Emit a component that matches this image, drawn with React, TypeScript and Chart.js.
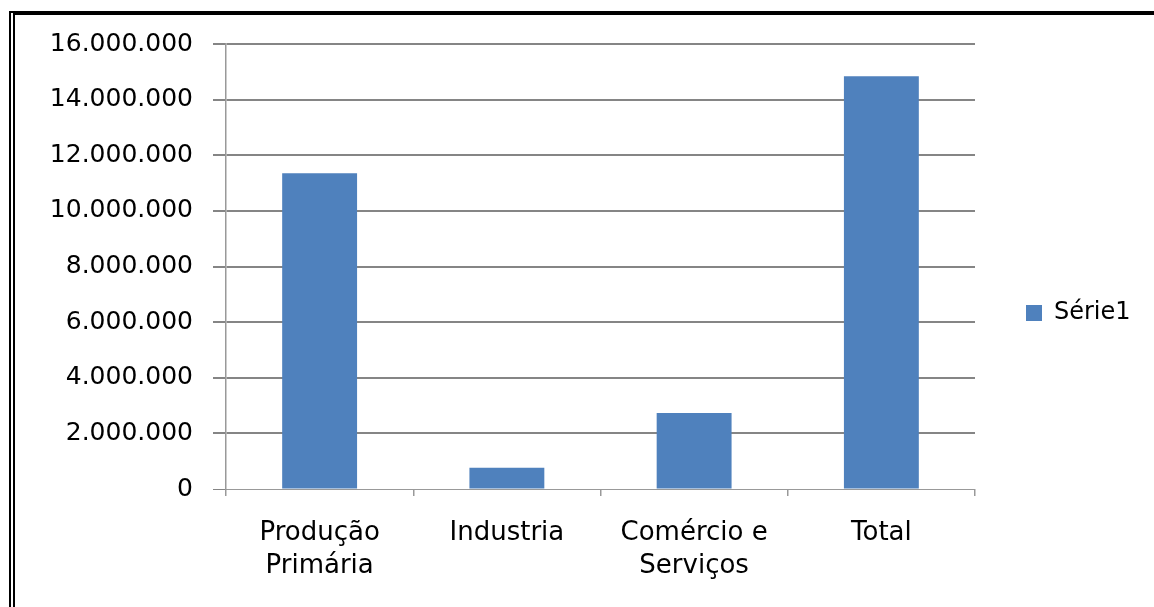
import React, { useEffect, useRef } from "react";
import { Chart, registerables } from "chart.js";

Chart.register(...registerables);

const categories: (string | string[])[] = [
  ["Produção", "Primária"],
  "Industria",
  ["Comércio e", "Serviços"],
  "Total",
];
const seriesLabel = "Série1";
const seriesValues = [11350000, 760000, 2730000, 14840000];
const yTickValues = [0, 2000000, 4000000, 6000000, 8000000, 10000000, 12000000, 14000000, 16000000];

const W = 1154;
const H = 607;
const PLOT_LEFT = 226;
const PLOT_RIGHT = 975;
const PLOT_TOP = 44;
const PLOT_BOTTOM = 489;
const PAD_BOTTOM = 25;
const LEGEND_FONT = 24;
const LEGEND_BOX = 16;
const LEGEND_PAD = 51;

const GRID = "#858585";
const BAR = "#4F81BD";

function fmt(v: number): string {
  return String(Math.round(v)).replace(/\B(?=(\d{3})+(?!\d))/g, ".");
}

export default function App() {
  const ref = useRef<HTMLCanvasElement | null>(null);

  useEffect(() => {
    const canvas = ref.current;
    if (!canvas) return;
    const mctx = document.createElement("canvas").getContext("2d")!;
    mctx.font = `normal ${LEGEND_FONT}px "DejaVu Sans"`;
    const tw = mctx.measureText(seriesLabel).width;
    const legendW = LEGEND_PAD + LEGEND_BOX + LEGEND_FONT / 2 + tw + 10;
    const padRight = Math.max(0, W - PLOT_RIGHT - legendW);

    const chart = new Chart(canvas, {
      type: "bar",
      data: {
        labels: categories,
        datasets: [
          {
            label: seriesLabel,
            data: seriesValues,
            backgroundColor: BAR,
            borderWidth: 0,
            barPercentage: 0.4,
            categoryPercentage: 1,
          },
        ],
      },
      options: {
        responsive: false,
        animation: false,
        devicePixelRatio: 1,
        layout: {
          padding: { top: PLOT_TOP, left: 0, right: padRight, bottom: PAD_BOTTOM },
        },
        plugins: {
          tooltip: { enabled: false },
          legend: {
            position: "right",
            labels: {
              boxWidth: LEGEND_BOX,
              boxHeight: LEGEND_BOX,
              padding: LEGEND_PAD,
              color: "#000",
              font: { family: '"DejaVu Sans"', size: LEGEND_FONT },
            },
          },
        },
        scales: {
          x: {
            grid: {
              display: true,
              drawOnChartArea: false,
              drawTicks: true,
              tickLength: 7,
              color: "#999",
              lineWidth: 1.5,
              offset: true,
            },
            border: { display: true, color: "#999", width: 1 },
            ticks: {
              color: "#000",
              padding: 21,
              maxRotation: 0,
              autoSkip: false,
              font: { family: '"DejaVu Sans"', size: 26, lineHeight: 33 / 26 },
            },
            afterFit: (s: any) => {
              s.height = H - PAD_BOTTOM - PLOT_BOTTOM;
            },
          },
          y: {
            min: 0,
            max: 16000000,
            afterBuildTicks: (s: any) => {
              s.ticks = yTickValues.map((v) => ({ value: v }));
            },
            grid: {
              color: GRID,
              lineWidth: (c: any) => (c.tick && c.tick.value === 0 ? 1 : 2),
              drawTicks: true,
              tickLength: 13,
            },
            border: { display: true, color: "#999", width: 1.5 },
            ticks: {
              color: "#000",
              padding: 20,
              font: { family: '"DejaVu Sans"', size: 25 },
              callback: (v: any) => fmt(Number(v)),
            },
            afterFit: (s: any) => {
              s.width = PLOT_LEFT;
            },
          },
        },
      },
    });
    return () => chart.destroy();
  }, []);

  return (
    <div style={{ position: "absolute", left: 0, top: 0, width: W, height: H, background: "#fff", overflow: "hidden" }}>
      <canvas ref={ref} width={W} height={H} style={{ display: "block", width: W, height: H }} />
      <div
        style={{
          position: "absolute",
          left: 9,
          top: 11,
          width: W,
          height: H,
          borderTop: "4px solid #000",
          borderLeft: "6px double #000",
          pointerEvents: "none",
        }}
      />
    </div>
  );
}
